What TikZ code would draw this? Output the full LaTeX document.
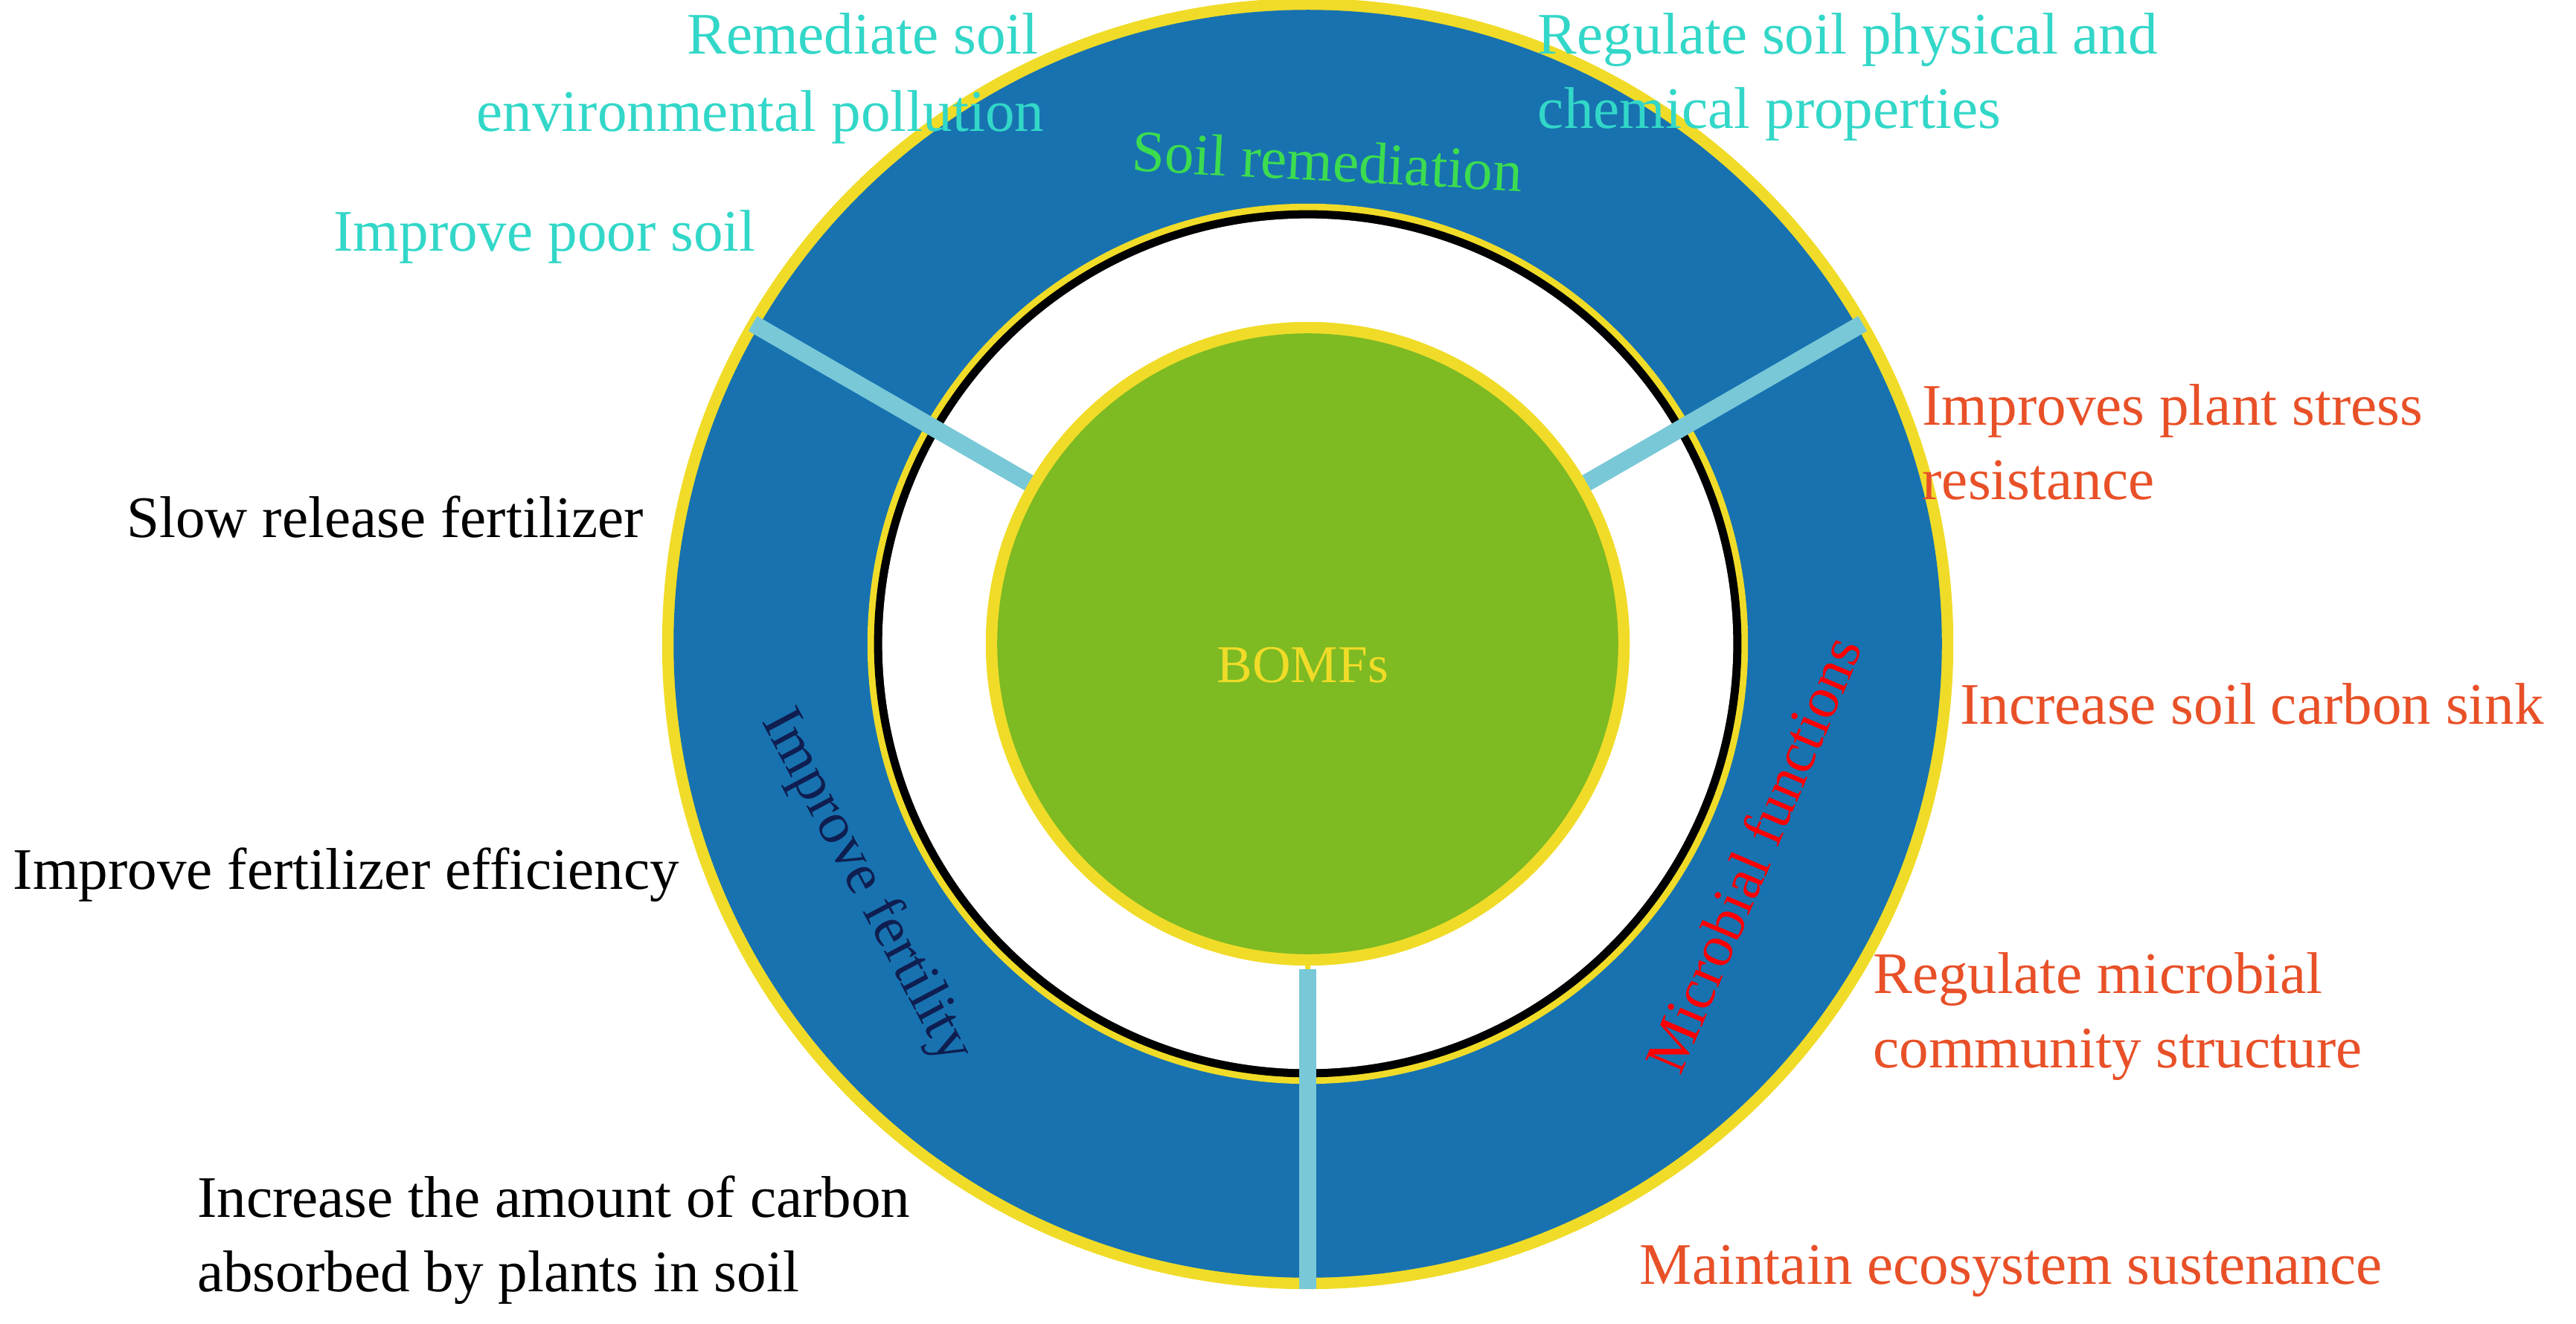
\documentclass[tikz,border=0pt]{standalone}
\usepackage{fontspec}
\setmainfont{Liberation Serif}
\usetikzlibrary{calc}
\definecolor{ringblue}{RGB}{24,114,176}
\definecolor{ringyel}{RGB}{240,220,40}
\definecolor{cgreen}{RGB}{126,186,34}
\definecolor{divblue}{RGB}{120,200,215}
\definecolor{tcyan}{RGB}{50,215,200}
\definecolor{tred}{RGB}{232,80,40}
\definecolor{tgreen}{RGB}{60,220,80}
\definecolor{tnavy}{RGB}{15,30,80}
\begin{document}
\begin{tikzpicture}[x=0.05cm,y=-0.05cm,
  lab/.style={font=\fontsize{51}{64}\selectfont,align=left,inner sep=0pt},
  div/.style={line width=15,color=divblue},
  ydiv/.style={line width=5,color=ringyel}]
\useasboundingbox (0,0) rectangle (1568,806);
\coordinate (C) at (796,392);
% outer ring
\fill[ringyel] (C) circle[radius=393];
\fill[ringblue] (C) circle[radius=386];
\fill[ringyel] (C) circle[radius=268];
\fill[black] (C) circle[radius=264];
\fill[white] (C) circle[radius=259];
% yellow dividers in white gap
\foreach \a in {150,30,-90}{
  \draw[ydiv] ($(C)+({195*cos(\a)},{-195*sin(\a)})$) -- ($(C)+({262*cos(\a)},{-262*sin(\a)})$);
}
% light blue dividers
\foreach \a in {150,30}{
  \draw[div] ($(C)+({190*cos(\a)},{-190*sin(\a)})$) -- ($(C)+({390*cos(\a)},{-390*sin(\a)})$);
}
\draw[div] (796,590) -- (796,785);
% green centre
\fill[ringyel] (C) circle[radius=196];
\fill[cgreen] (C) circle[radius=189];
\node[font=\fontsize{46}{50}\selectfont,text=ringyel] (bomf) at (793,405) {BOMFs};
% ring labels
\node[lab,text=tgreen,rotate=-3] (sr) at (808,98) {Soil remediation};
\node[lab,text=red,rotate=67] (mf) at (1067,520) {Microbial functions};
\node[lab,text=tnavy,rotate=-62] (if) at (527,540) {Improve fertility};
% outside texts
\node[lab,text=tcyan,anchor=north west] (t1) at (418,8) {Remediate soil};
\node[lab,text=tcyan,anchor=north west] (t2) at (290,55) {environmental pollution};
\node[lab,text=tcyan,anchor=north west] (t3) at (203,128) {Improve poor soil};
\node[lab,text=tcyan,anchor=north west] (t4) at (936,8) {Regulate soil physical and\\chemical properties};
\node[lab,text=tred,anchor=north west] (t5) at (1170,234) {Improves plant stress\\resistance};
\node[lab,text=tred,anchor=north west] (t6) at (1193,416) {Increase soil carbon sink};
\node[lab,text=tred,anchor=north west] (t7) at (1140,580) {Regulate microbial\\community structure};
\node[lab,text=tred,anchor=north west] (t8) at (998,758) {Maintain ecosystem sustenance};
\node[lab,anchor=north west] (b1) at (77,302) {Slow release fertilizer};
\node[lab,anchor=north west] (b2) at (8,516) {Improve fertilizer efficiency};
\node[lab,anchor=north west] (b3) at (120,716) {Increase the amount of carbon\\absorbed by plants in soil};
\end{tikzpicture}
\end{document}
